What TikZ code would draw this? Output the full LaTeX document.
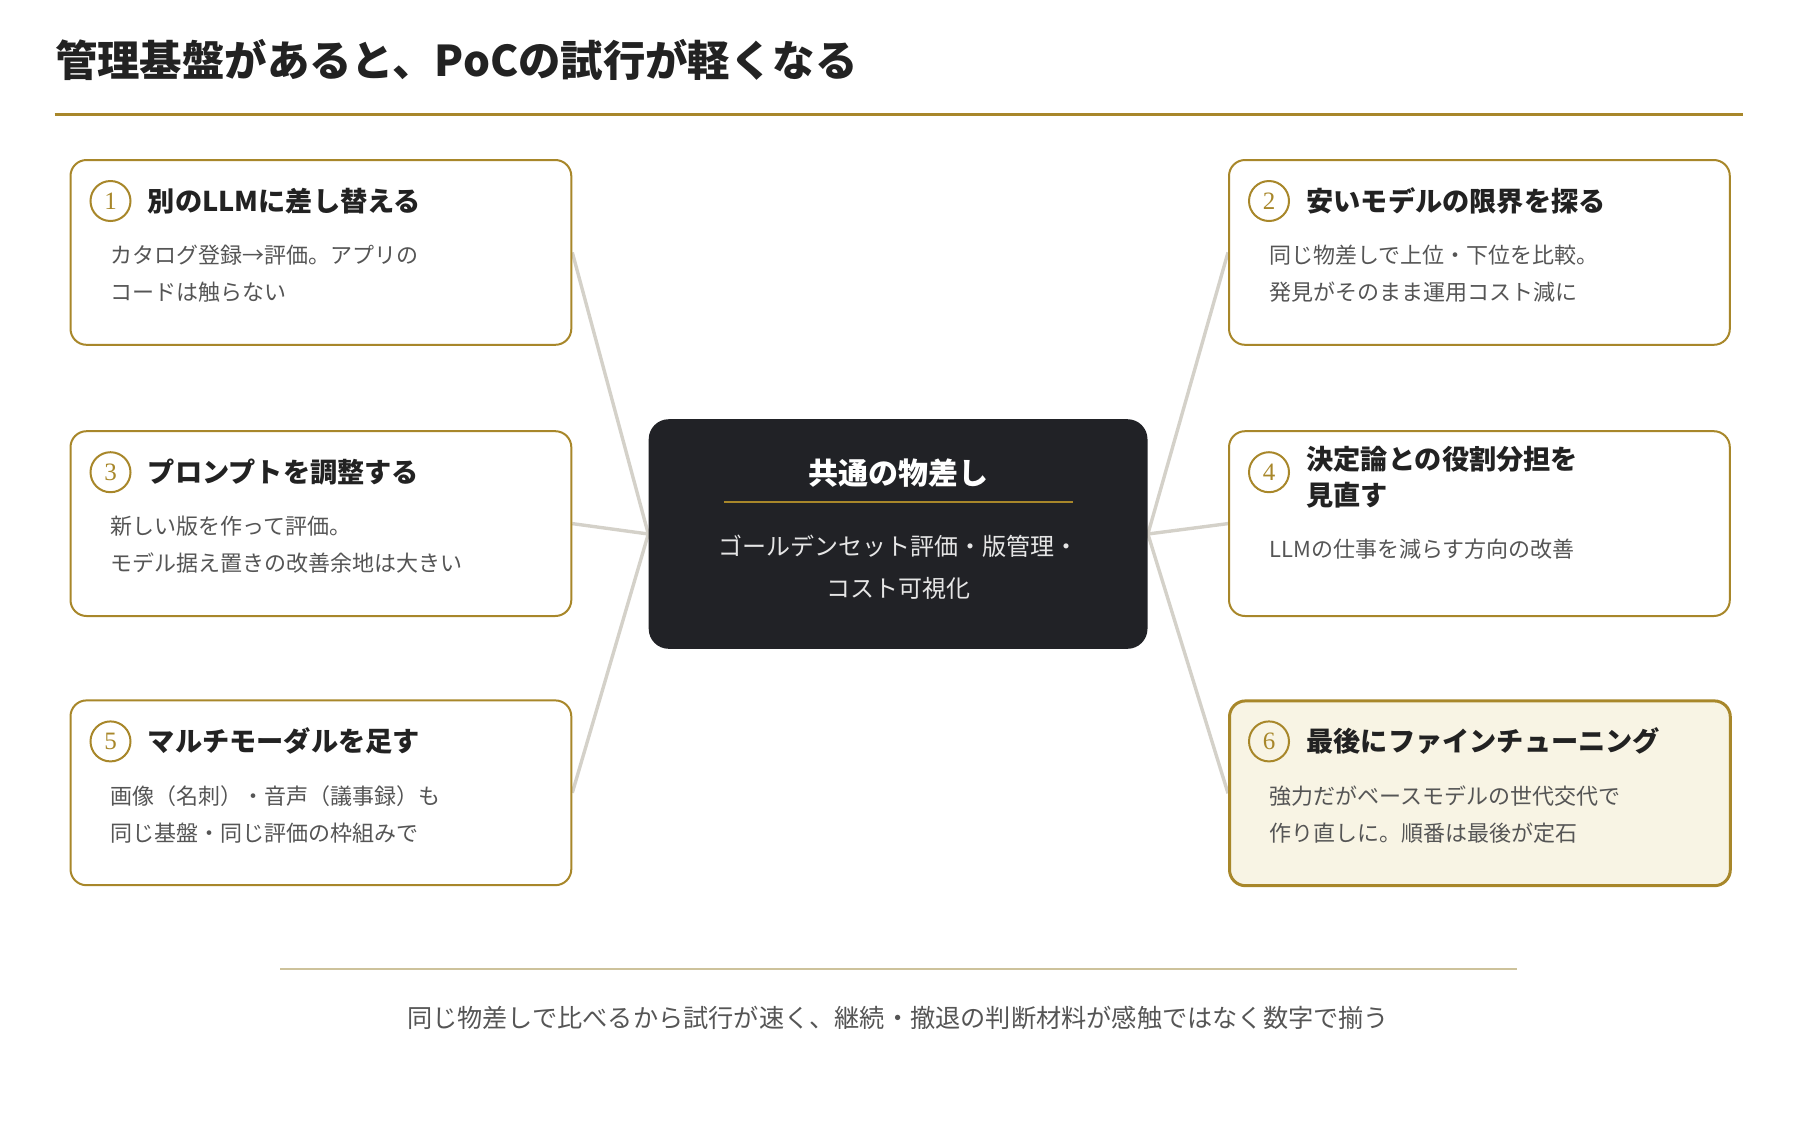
\documentclass[tikz,border=0pt]{standalone}
\usepackage{fontspec}
\setmainfont{Noto Sans CJK JP}
\newfontfamily\numfont{Liberation Serif}
\usepackage{xcolor}
\usepackage{tikz}
\usetikzlibrary{
	backgrounds,
	positioning
}
\definecolor{gold}{HTML}{A8872A}
\definecolor{ink}{HTML}{222222}
\definecolor{bodygray}{HTML}{555555}
\definecolor{hubfill}{HTML}{212226}
\definecolor{hubtext}{HTML}{E6E6E6}
\definecolor{wire}{HTML}{D4D1C9}
\definecolor{cream}{HTML}{F8F4E4}
\definecolor{tan}{HTML}{CDC29B}

\begin{document}
\begin{tikzpicture}[x=0.5pt, y=-0.5pt,
		card/.style={draw=gold, line width=1pt, fill=white, rounded corners=8pt, minimum width=250.4pt, minimum height=92.4pt, anchor=north west, inner sep=0pt},
		cardlast/.style={card, fill=cream, line width=1.5pt},
		num/.style={circle, draw=gold, line width=1pt, minimum size=20pt, inner sep=0pt, text=gold, font=\numfont\fontsize{12.5}{12.5}\selectfont},
		head/.style={anchor=west, inner sep=0pt, align=left, text=ink, font=\bfseries\fontsize{13.6}{18}\selectfont},
		desc/.style={inner sep=0pt, align=left, text=bodygray, font=\fontsize{11}{18.5}\selectfont},
		wire/.style={draw=wire, line width=1.7pt}
	]
	\def\mkcard#1#2#3#4#5#6#7{
		\node[#4] (card#1) at (#2, #3) {} ;
		\node[num] (num#1) at ([shift={(41, 42)}]card#1.north west) {#1} ;
		\node[head, right=8pt of num#1, yshift=#7] (head#1) {#5} ;
		\coordinate (top#1) at (num#1.center |- head#1.south) ;
		\node[desc, below right=15pt and 0pt of top#1] (desc#1) {#6} ;
	}

	\useasboundingbox (0, 0) rectangle (1800, 1120) ;

	\node[anchor=west, inner sep=0pt, text=ink, font=\bfseries\fontsize{21.2}{24}\selectfont] (title) at (54.6, 59.6) {管理基盤があると、PoCの試行が軽くなる} ;
	\draw[gold, line width=1.2pt] (54.6, 114.3) -- (1742.6, 114.3) ;

	\node[fill=hubfill, rounded corners=10pt, minimum width=249.4pt, minimum height=114.8pt, inner sep=0pt] (hub) at (898.1, 534) {} ;
	\node[text=white, inner sep=0pt, font=\bfseries\fontsize{15}{18}\selectfont] (hubtitle) at (898.1, 472.9) {共通の物差し} ;
	\draw[gold, line width=1pt] (724.3, 502) -- (1073, 502) ;
	\node[text=hubtext, inner sep=0pt, align=center, font=\fontsize{12}{21}\selectfont] (hubbody) at (898.1, 567.3) {ゴールデンセット評価・版管理・\\コスト可視化} ;

	\mkcard{1}{69.5}{159}{card}{別のLLMに差し替える}{カタログ登録→評価。アプリの\\コードは触らない}{0pt}
	\mkcard{2}{1228}{159}{card}{安いモデルの限界を探る}{同じ物差しで上位・下位を比較。\\発見がそのまま運用コスト減に}{0pt}
	\mkcard{3}{69.5}{430.2}{card}{プロンプトを調整する}{新しい版を作って評価。\\モデル据え置きの改善余地は大きい}{0pt}
	\mkcard{4}{1228}{430.2}{card}{決定論との役割分担を\\見直す}{LLMの仕事を減らす方向の改善}{-2.5pt}
	\mkcard{5}{69.5}{699.4}{card}{マルチモーダルを足す}{画像（名刺）・音声（議事録）も\\同じ基盤・同じ評価の枠組みで}{0pt}
	\mkcard{6}{1228}{699.4}{cardlast}{最後にファインチューニング}{強力だがベースモデルの世代交代で\\作り直しに。順番は最後が定石}{0pt}

	\begin{scope}[on background layer]
		\foreach \n in {1, 3, 5} \draw[wire] (card\n.east) -- (hub.west) ;
		\foreach \n in {2, 4, 6} \draw[wire] (card\n.west) -- (hub.east) ;
	\end{scope}

	\draw[tan, line width=1pt] (280.2, 968.7) -- (1517, 968.7) ;
	\node[text=bodygray, inner sep=0pt, font=\fontsize{12.6}{16}\selectfont] (note) at (898.1, 1018.3) {同じ物差しで比べるから試行が速く、継続・撤退の判断材料が感触ではなく数字で揃う} ;
\end{tikzpicture}
\end{document}
